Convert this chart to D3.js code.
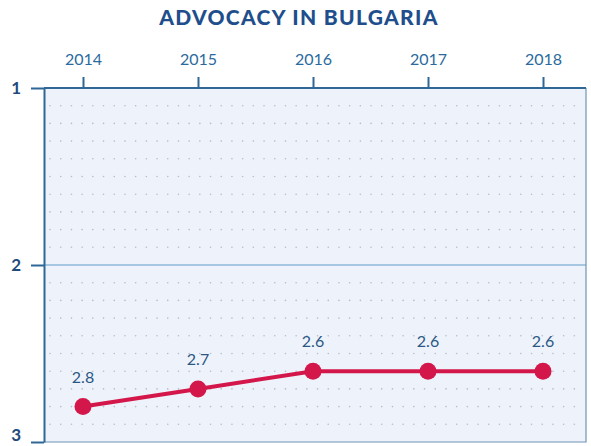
<!DOCTYPE html>
<html>
<head>
<meta charset="utf-8">
<script src="https://cdnjs.cloudflare.com/ajax/libs/d3/7.8.5/d3.min.js"></script>
<style>
  body { margin: 0; background: #fff; }
  text { font-family: Lato, "Open Sans", sans-serif; }
</style>
</head>
<body>
<div id="chart"></div>
<script>
const years = [2014, 2015, 2016, 2017, 2018]
const scores = [2.8, 2.7, 2.6, 2.6, 2.6]
const yTicks = [1, 2, 3]
const title = 'ADVOCACY IN BULGARIA'

const width = 591
const height = 446
const plotLeft = 44, plotRight = 586, plotTop = 88, plotBottom = 442

const svg = d3.select('#chart')
  .append('svg')
  .attr('width', width)
  .attr('height', height)

// scales
const x = d3.scalePoint()
  .domain(years)
  .range([83, 543])

const y = d3.scaleLinear()
  .domain([1, 3])
  .range([plotTop, plotBottom])

// plot background
svg.append('rect')
  .attr('x', plotLeft)
  .attr('y', plotTop)
  .attr('width', plotRight - plotLeft)
  .attr('height', plotBottom - plotTop)
  .attr('fill', '#eef3fb')

// dotted grid, one row each 0.1
const rows = d3.range(11, 30).map(d => d / 10).filter(d => Math.abs(d - 2) > 0.01)
svg.append('g')
  .selectAll('line')
  .data(rows)
  .enter()
  .append('line')
  .attr('x1', plotLeft + 6)
  .attr('x2', plotRight - 2)
  .attr('y1', d => y(d))
  .attr('y2', d => y(d))
  .attr('stroke', '#b9bfc9')
  .attr('stroke-width', 1.6)
  .attr('stroke-linecap', 'round')
  .attr('stroke-dasharray', '0.1 10.6')

// solid line at 2
svg.append('line')
  .attr('x1', plotLeft)
  .attr('x2', plotRight)
  .attr('y1', y(2))
  .attr('y2', y(2))
  .attr('stroke', '#a6c6e2')
  .attr('stroke-width', 2)

// right and bottom border
svg.append('path')
  .attr('d', `M${plotLeft},${plotBottom}H${plotRight}V${plotTop}`)
  .attr('fill', 'none')
  .attr('stroke', '#6f93b5')
  .attr('stroke-width', 1.2)

// top axis
const xAxis = svg.append('g')
  .attr('transform', `translate(0,${plotTop})`)
  .call(d3.axisTop(x).tickSize(11).tickSizeOuter(0).tickPadding(12))
xAxis.select('.domain').remove()
xAxis.append('line')
  .attr('x1', plotLeft).attr('x2', plotRight)
  .attr('stroke', '#2f6797').attr('stroke-width', 2)
xAxis.selectAll('.tick line').attr('stroke', '#2f6797').attr('stroke-width', 2)
xAxis.selectAll('.tick text')
  .attr('fill', '#2a6a9e')
  .style('font-size', '16px')

// left axis
const yAxis = svg.append('g')
  .attr('transform', `translate(${plotLeft},0)`)
  .call(d3.axisLeft(y).tickValues(yTicks).tickFormat(d3.format('d')).tickSize(13).tickSizeOuter(0).tickPadding(10))
yAxis.select('.domain').attr('stroke', '#2f6797').attr('stroke-width', 2)
yAxis.selectAll('.tick line').attr('stroke', '#2f6797').attr('stroke-width', 2)
yAxis.selectAll('.tick text')
  .attr('fill', '#1f4a7c')
  .style('font-size', '17px')
  .style('font-weight', 'bold')
// keep the bottom label inside the frame
yAxis.selectAll('.tick text').filter(d => d === 3).attr('dy', '-0.1em')

// title
svg.append('text')
  .attr('x', 299)
  .attr('y', 25)
  .attr('text-anchor', 'middle')
  .style('font-size', '21px')
  .style('font-weight', '900')
  .style('letter-spacing', '1.3px')
  .style('fill', '#1f4e8c')
  .text(title)

// line + markers
const data = years.map((yr, i) => ({ year: yr, value: scores[i] }))

svg.append('path')
  .datum(data)
  .attr('d', d3.line().x(d => x(d.year)).y(d => y(d.value)))
  .attr('fill', 'none')
  .attr('stroke', '#d3174a')
  .attr('stroke-width', 4)

svg.selectAll('circle.pt')
  .data(data)
  .enter()
  .append('circle')
  .attr('class', 'pt')
  .attr('cx', d => x(d.year))
  .attr('cy', d => y(d.value))
  .attr('r', 8.5)
  .attr('fill', '#d3174a')

svg.selectAll('text.lbl')
  .data(data)
  .enter()
  .append('text')
  .attr('class', 'lbl')
  .attr('x', d => x(d.year))
  .attr('y', d => y(d.value) - 24)
  .attr('text-anchor', 'middle')
  .style('font-size', '16px')
  .style('fill', '#2b5784')
  .text(d => d3.format('.1f')(d.value))
</script>
</body>
</html>
